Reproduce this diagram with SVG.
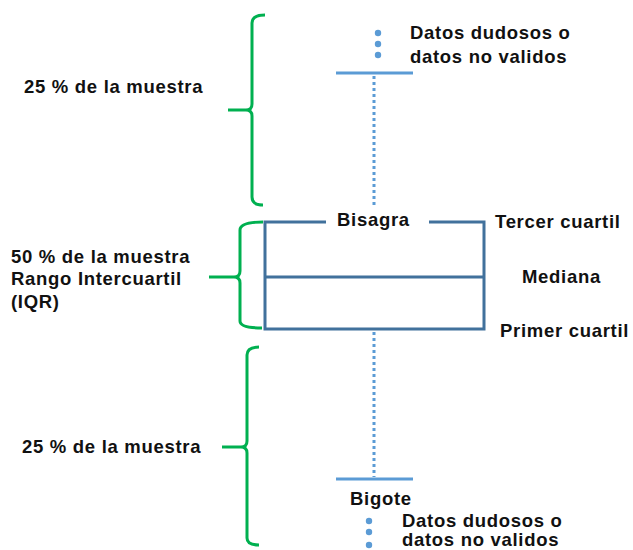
<svg xmlns="http://www.w3.org/2000/svg" width="633" height="550" viewBox="0 0 633 550">
<style>
.t{font-family:"Liberation Sans",Arial,sans-serif;font-weight:bold;font-size:18.5px;letter-spacing:0.7px;fill:#111}
.br{fill:none;stroke:#00B050;stroke-width:3;stroke-linejoin:round}
.box{fill:none;stroke:#41719C;stroke-width:3}
.wh{stroke:#5B9BD5;stroke-width:3;fill:none}
.dot{stroke:#5B9BD5;stroke-width:3;stroke-dasharray:3,3;fill:none}
.pt{fill:#5B9BD5}
</style>
<rect width="633" height="550" fill="#fff"/>
<g id="brace-top">
<path class="br" d="M265,15 Q252,15 252,23 L252,104 Q252,110 246,110 L228,110 M246,110 Q252,110 252,116 L252,197 Q252,205 263,205"/>
<text class="t" x="24" y="93">25 % de la muestra</text>
</g>
<g id="brace-mid">
<path class="br" d="M263,222 Q240,222 240,230 L240,271 Q240,277 234,277 L209,277 M234,277 Q240,277 240,283 L240,321 Q240,328 262,328"/>
<text class="t" x="11" y="263">50 % de la muestra</text>
<text class="t" x="11" y="285">Rango Intercuartil</text>
<text class="t" x="11" y="308">(IQR)</text>
</g>
<g id="brace-bottom">
<path class="br" d="M259,347 Q247,347 247,355 L247,441 Q247,447 241,447 L222,447 M241,447 Q247,447 247,453 L247,538 Q247,545 259,545"/>
<text class="t" x="22" y="453">25 % de la muestra</text>
</g>
<g id="connectors">
<line class="dot" x1="374" y1="76" x2="374" y2="206"/>
<line class="dot" x1="374" y1="332" x2="374" y2="477"/>
</g>
<g id="box">
<path class="box" d="M326,222 L265,222 L265,329 L484,329 L484,222 L429,222"/>
<line class="box" x1="265" y1="277" x2="484" y2="277"/>
<text class="t" x="337" y="226">Bisagra</text>
<text class="t" x="495" y="228">Tercer cuartil</text>
<text class="t" x="522" y="283">Mediana</text>
<text class="t" x="500" y="337">Primer cuartil</text>
</g>
<g id="whisker-top">
<line class="wh" x1="336" y1="73" x2="413" y2="73"/>
<circle class="pt" cx="378" cy="33" r="3.2"/>
<circle class="pt" cx="378" cy="44" r="3.2"/>
<circle class="pt" cx="378" cy="55" r="3.2"/>
<text class="t" x="410" y="39">Datos dudosos o</text>
<text class="t" x="410" y="63">datos no validos</text>
</g>
<g id="whisker-bottom">
<line class="wh" x1="336" y1="479" x2="413" y2="479"/>
<text class="t" x="350" y="505">Bigote</text>
<circle class="pt" cx="369" cy="521" r="3.2"/>
<circle class="pt" cx="369" cy="532" r="3.2"/>
<circle class="pt" cx="369" cy="545" r="3.2"/>
<text class="t" x="402" y="527">Datos dudosos o</text>
<text class="t" x="402" y="546">datos no validos</text>
</g>
</svg>
